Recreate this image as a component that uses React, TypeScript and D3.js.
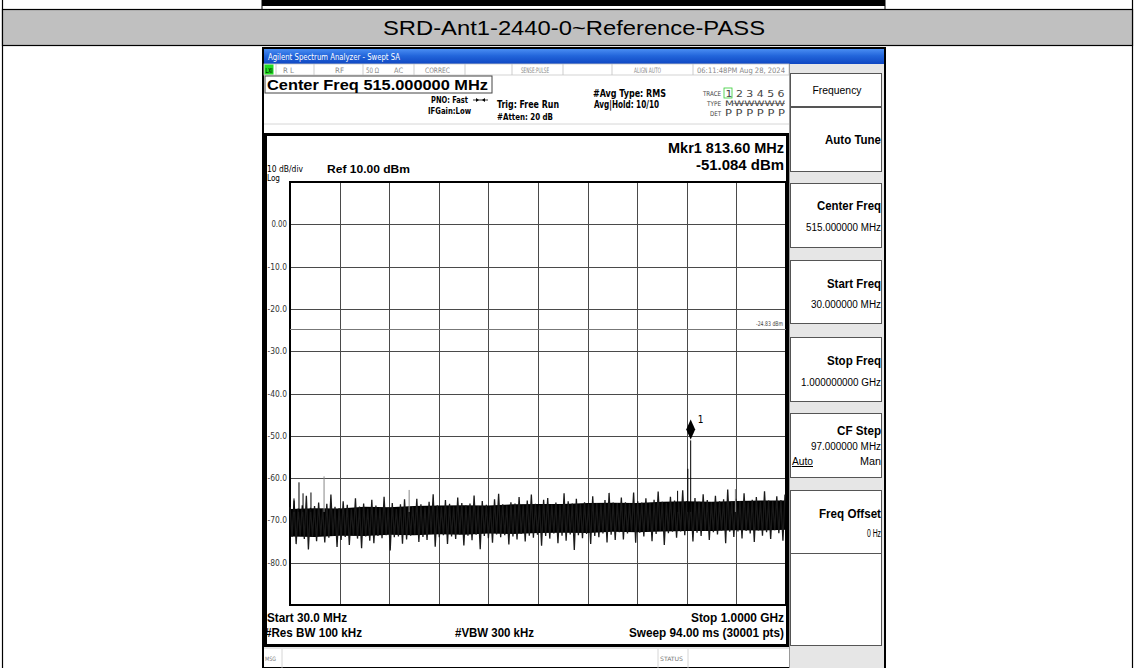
import React from 'react';
import * as d3 from 'd3';

// ---------- data ----------
const TITLE = 'SRD-Ant1-2440-0~Reference-PASS';
const START_MHZ = 30;
const STOP_MHZ = 1000;
const REF_DBM = 10;
const BOTTOM_DBM = -90;
const xDivs = [0, 1, 2, 3, 4, 5, 6, 7, 8, 9, 10];
const yTickValues = [0, -10, -20, -30, -40, -50, -60, -70, -80];
const yTickLabels = ['0.00', '-10.0', '-20.0', '-30.0', '-40.0', '-50.0', '-60.0', '-70.0', '-80.0'];
const yGridValues = [10, 0, -10, -20, -30, -40, -50, -60, -70, -80, -90];
const DISPLAY_LINE_DBM = -24.83;
const MARKER_FREQ = 813.6;
const MARKER_DBM = -51.084;
const SWEEP_STEP_MHZ = 8;

// noise trace extremes (one pair per 8 MHz column)
const noiseHi = [
  -66.9, -65.3, -67.2, -66.4, -64.2, -67.0, -66.6, -65.8, -67.3, -66.1,
  -63.9, -66.8, -67.1, -65.5, -66.3, -67.4, -64.8, -66.7, -66.0, -67.2,
  -65.1, -66.5, -67.0, -64.4, -66.9, -65.9, -67.3, -66.2, -65.0, -66.8,
  -66.6, -64.9, -66.2, -66.9, -65.6, -63.8, -66.4, -66.8, -65.2, -66.1,
  -66.7, -64.6, -65.9, -66.5, -66.0, -64.1, -66.6, -65.4, -66.3, -66.8,
  -65.0, -63.7, -66.2, -66.5, -65.7, -66.0, -64.5, -66.4, -65.3, -63.9,
  -66.1, -66.4, -65.1, -64.7, -66.2, -65.8, -66.3, -63.6, -65.5, -66.0,
  -64.9, -66.2, -65.7, -66.1, -64.3, -65.9, -66.0, -65.2, -63.5, -65.8,
  -65.9, -64.6, -65.7, -66.0, -63.4, -65.5, -65.8, -64.8, -65.9, -65.1,
  -63.2, -65.6, -65.9, -64.4, -65.3, -65.7, -62.9, -65.4, -65.8, -64.7,
  -65.6, -63.8, -65.2, -65.7, -64.2, -65.5, -65.0, -62.7, -65.6, -64.9,
  -65.4, -63.6, -65.7, -65.1, -64.5, -65.6, -63.1, -65.3, -65.5, -64.3,
  -65.2, -63.9,
];
const noiseLo = [
  -73.9, -75.6, -73.6, -74.4, -76.9, -73.8, -74.9, -73.5, -75.2, -74.1,
  -73.7, -76.3, -74.6, -73.9, -75.8, -73.6, -74.3, -76.6, -73.8, -74.8,
  -75.4, -73.7, -74.2, -73.5, -77.1, -74.0, -73.8, -75.5, -74.5, -73.6,
  -73.4, -75.1, -73.9, -74.6, -73.2, -76.2, -74.0, -73.5, -75.6, -73.8,
  -74.4, -73.3, -75.9, -73.6, -74.7, -73.4, -76.8, -73.7, -74.2, -75.3,
  -73.3, -74.0, -73.5, -75.7, -73.8, -74.5, -73.2, -75.0, -73.6, -74.1,
  -73.4, -76.0, -73.7, -74.3, -73.1, -75.4, -73.6, -74.8, -73.3, -77.0,
  -73.5, -74.2, -73.2, -75.6, -73.7, -74.0, -73.1, -75.2, -73.4, -74.6,
  -72.8, -74.5, -73.1, -72.6, -75.3, -72.9, -73.8, -72.7, -74.9, -73.2,
  -72.5, -75.8, -73.0, -72.7, -74.1, -72.6, -73.5, -72.4, -75.0, -72.9,
  -73.7, -72.5, -74.6, -72.8, -73.3, -72.4, -75.4, -72.7, -73.9, -72.6,
  -74.3, -72.5, -73.1, -75.1, -72.4, -73.6, -72.8, -74.4, -72.3, -73.0,
  -74.8, -72.6,
];
// dense core of the trace, one value per 48.5 MHz
const coreTop = [-67.3, -67.1, -67.2, -66.8, -66.9, -66.6, -66.5, -66.4, -66.5, -66.2, -66.1, -66.1, -65.9, -65.8, -65.9, -65.6, -65.5, -65.6, -65.4, -65.3, -65.3];
const coreBot = [-73.8, -73.9, -73.6, -73.7, -73.4, -73.5, -73.3, -73.4, -73.1, -73.2, -73.0, -72.9, -73.0, -72.7, -72.8, -72.6, -72.5, -72.5, -72.3, -72.4, -72.2];
const spurFreqs = [37.8, 47.6, 55.5, 71.0, 96.6, 263.0, 788.0, 808.0, 813.6, 901.0];
const spurLevels = [-64.8, -61.0, -63.6, -63.4, -59.6, -62.8, -63.0, -57.8, -51.084, -62.6];
const spurGray = [false, false, false, false, true, true, false, false, false, true];

const statusItems = ['R L', 'RF', '50 Ω', 'AC', 'CORREC', 'SENSE:PULSE', 'ALIGN AUTO', '06:11:48PM Aug 28, 2024'];
const softkeyTitles = ['Auto Tune', 'Center Freq', 'Start Freq', 'Stop Freq', 'CF Step', 'Freq Offset'];
const softkeyValues = ['', '515.000000 MHz', '30.000000 MHz', '1.000000000 GHz', '97.000000 MHz', '0 Hz'];

// ---------- layout ----------
const W = 1136;
const H = 668;
const PX0 = 290, PX1 = 786, PY0 = 182, PY1 = 605;
const FONT = "'Liberation Sans', Arial, Helvetica, sans-serif";
const NARROW = "'Liberation Sans Narrow', 'Arial Narrow', 'DejaVu Sans Condensed', 'Liberation Sans', Arial, sans-serif";

type TP = {
  x: number; y: number; s?: number; w?: number | string; a?: 'start' | 'middle' | 'end';
  fill?: string; len?: number; f?: string; children: React.ReactNode; deco?: string;
};
function T({ x, y, s = 10, w = 400, a = 'start', fill = '#000', len, f = FONT, children, deco }: TP) {
  return (
    <text x={x} y={y} fontSize={s} fontWeight={w} textAnchor={a} fill={fill} fontFamily={f}
      textLength={len} lengthAdjust={len ? 'spacingAndGlyphs' : undefined} textDecoration={deco}>
      {children}
    </text>
  );
}

export default function App() {
  const x = d3.scaleLinear().domain([START_MHZ, STOP_MHZ]).range([PX0, PX1]);
  const y = d3.scaleLinear().domain([REF_DBM, BOTTOM_DBM]).range([PY0, PY1]);
  const span = STOP_MHZ - START_MHZ;

  // zig-zag noise trace between column extremes
  const pts: [number, number][] = [];
  noiseHi.forEach((hi, i) => {
    const f = START_MHZ + i * SWEEP_STEP_MHZ;
    pts.push([x(f), y(hi)]);
    if (f + SWEEP_STEP_MHZ / 2 <= STOP_MHZ) pts.push([x(f + SWEEP_STEP_MHZ / 2), y(noiseLo[i])]);
  });
  const tracePath = d3.line()(pts) || '';
  const coreArea = d3.area<number>()
    .x((_, i) => x(START_MHZ + (i * span) / (coreTop.length - 1)))
    .y0((_, i) => y(coreBot[i]))
    .y1((d) => y(d))(coreTop) || '';

  const mx = x(MARKER_FREQ);
  const my = y(MARKER_DBM);

  const statusX = [283, 335, 366, 394, 425, 521, 634, 697];
  const statusSep = [276, 314, 363, 414, 465, 512, 563, 612, 693];

  const keyBoxes = [
    { y0: 107, y1: 171 }, { y0: 183, y1: 247 }, { y0: 260, y1: 323 },
    { y0: 337, y1: 401 }, { y0: 413, y1: 477 }, { y0: 490, y1: 553 },
  ];
  const keyTitleY = [144, 210, 288, 365, 435, 518];
  const keyValY = [0, 231, 308, 386, 450, 537];
  const keyTitleLen = [56, 64, 54, 54, 44, 62];
  const keyValLen = [0, 75, 70, 80, 70, 14];

  return (
    <svg width={W} height={H} viewBox={`0 0 ${W} ${H}`} style={{ position: 'absolute', left: 0, top: 0, background: '#fff' }}>
      <defs>
        <linearGradient id="tb" x1="0" y1="0" x2="0" y2="1">
          <stop offset="0" stopColor="#4a8df2" />
          <stop offset="0.45" stopColor="#2366db" />
          <stop offset="1" stopColor="#0f47c2" />
        </linearGradient>
      </defs>
      <rect x={0} y={0} width={W} height={H} fill="#fff" />

      {/* top remnant of previous row */}
      <rect x={262} y={0} width={623} height={6} fill="#000" />
      <line x1={262} y1={0} x2={262} y2={9} stroke="#000" />
      <line x1={885} y1={0} x2={885} y2={9} stroke="#000" />

      {/* outer table borders */}
      <line x1={2.5} y1={0} x2={2.5} y2={H} stroke="#000" strokeWidth={1.2} />
      <line x1={1132.5} y1={0} x2={1132.5} y2={H} stroke="#000" strokeWidth={1.2} />

      {/* header band */}
      <rect x={2.5} y={9.5} width={1130} height={36} fill="#c0c0c0" stroke="#000" strokeWidth={1.2} />
      <T x={574} y={35} s={21} a="middle" len={382}>{TITLE}</T>

      {/* screenshot */}
      <rect x={263} y={48} width={622} height={620} fill="#fff" stroke="#000" strokeWidth={2} />
      <rect x={264} y={49} width={620} height={15} fill="url(#tb)" />
      <T x={268} y={60} s={9} fill="#fff" len={132} f={NARROW}>Agilent Spectrum Analyzer - Swept SA</T>

      {/* status row */}
      <rect x={264} y={64} width={525} height={11} fill="#fff" stroke="#c8c8c8" strokeWidth={0.8} />
      <rect x={264.5} y={64.5} width={9} height={10} fill="#22dd22" />
      <T x={265.5} y={73} s={7.5} w={700} fill="#003300" len={7}>LXI</T>
      {statusSep.map((sx, i) => (
        <line key={i} x1={sx} y1={64} x2={sx} y2={75} stroke="#c0c0c0" strokeWidth={0.8} />
      ))}
      {statusItems.map((s, i) => (
        <T key={s} x={statusX[i]} y={72.5} s={7.5} fill="#888" f={NARROW}
          len={[11, 9, 13, 9, 25, 28, 27, 88][i]}>{s}</T>
      ))}

      {/* measurement header */}
      <rect x={265} y={76} width={227} height={17} fill="#fff" stroke="#444" strokeWidth={1} />
      <T x={267} y={89.5} s={14} w={700} len={221}>Center Freq 515.000000 MHz</T>
      <T x={431} y={103} s={8.5} w={700} len={37} f={NARROW}>PNO: Fast</T>
      <line x1={473} y1={100} x2={488} y2={100} stroke="#000" strokeWidth={0.8} />
      <path d="M476,98 L479,100 L476,102 Z M485,98 L482,100 L485,102 Z" fill="#000" />
      <T x={428} y={114} s={8.5} w={700} len={43} f={NARROW}>IFGain:Low</T>
      <T x={497} y={108} s={10} w={700} len={62} f={NARROW}>Trig: Free Run</T>
      <T x={497} y={120} s={9} w={700} len={56} f={NARROW}>#Atten: 20 dB</T>
      <T x={593} y={97} s={10} w={700} len={73} f={NARROW}>#Avg Type: RMS</T>
      <T x={594} y={108} s={10} w={700} len={65} f={NARROW}>Avg|Hold: 10/10</T>
      <T x={721} y={96} s={6.5} a="end" fill="#444" len={18} f={NARROW}>TRACE</T>
      <rect x={724} y={88} width={8} height={10} fill="none" stroke="#3c3" strokeWidth={0.8} />
      <T x={725.5} y={96.5} s={9} fill="#444" len={59} f={NARROW}>1 2 3 4 5 6</T>
      <T x={721} y={106} s={6.5} a="end" fill="#444" len={14} f={NARROW}>TYPE</T>
      <T x={725} y={106} s={7.5} fill="#444" len={60} f={NARROW}>MWWWWW</T>
      <line x1={733} y1={103.5} x2={785} y2={103.5} stroke="#444" strokeWidth={0.6} />
      <T x={721} y={116} s={6.5} a="end" fill="#444" len={11} f={NARROW}>DET</T>
      <T x={725} y={116} s={8} fill="#444" len={60} f={NARROW}>P P P P P P</T>
      <line x1={264} y1={124} x2={789} y2={124} stroke="#ccc" strokeWidth={0.8} />

      {/* display frame */}
      <rect x={265.5} y={134.5} width={522} height={511} fill="#fff" stroke="#000" strokeWidth={3} />
      <T x={784} y={153} s={15} w={700} a="end" len={116}>Mkr1 813.60 MHz</T>
      <T x={784} y={170} s={15} w={700} a="end" len={88}>-51.084 dBm</T>
      <T x={267} y={172} s={9} len={36} f={NARROW}>10 dB/div</T>
      <T x={267} y={181} s={9} len={13} f={NARROW}>Log</T>
      <T x={327} y={173} s={11} w={700} len={83}>Ref 10.00 dBm</T>

      {/* grid */}
      {xDivs.map((d) => {
        const gx = Math.round(x(START_MHZ + (d * span) / 10)) + 0.5;
        return <line key={'v' + d} x1={gx} y1={PY0} x2={gx} y2={PY1} stroke="#4a4a4a" strokeWidth={1} />;
      })}
      {yGridValues.map((v) => {
        const gy = Math.round(y(v)) + 0.5;
        return <line key={'h' + v} x1={PX0} y1={gy} x2={PX1} y2={gy} stroke="#4a4a4a" strokeWidth={1} />;
      })}
      <rect x={PX0} y={PY0} width={PX1 - PX0} height={PY1 - PY0} fill="none" stroke="#000" strokeWidth={2} />
      {yTickValues.map((v, i) => (
        <T key={'yl' + v} x={287} y={y(v) + 3} s={9} a="end" fill="#333" f={NARROW}
          len={yTickLabels[i].length * 3.9}>{yTickLabels[i]}</T>
      ))}

      {/* display line */}
      <line x1={PX0} y1={Math.round(y(DISPLAY_LINE_DBM)) + 0.5} x2={PX1} y2={Math.round(y(DISPLAY_LINE_DBM)) + 0.5} stroke="#777" strokeWidth={1} />
      <T x={783} y={y(DISPLAY_LINE_DBM) - 3} s={6.5} a="end" fill="#444" len={27} f={NARROW}>-24.83 dBm</T>

      {/* trace */}
      <path d={coreArea} fill="#000" />
      <path d={tracePath} fill="none" stroke="#1a1a1a" strokeWidth={1.3} />
      {spurFreqs.map((f, i) => (
        <line key={'sp' + i} x1={x(f)} y1={y(-68)} x2={x(f)} y2={y(spurLevels[i])}
          stroke={spurGray[i] ? '#888' : '#000'} strokeWidth={1} />
      ))}

      {/* marker */}
      <path d={`M${mx},${my - 21} L${mx + 4.5},${my - 11} L${mx},${my - 1} L${mx - 4.5},${my - 11} Z`} fill="#000" />
      <T x={mx + 7} y={my - 17} s={10} f={NARROW}>1</T>

      {/* bottom annotations */}
      <T x={267} y={622} s={12} w={700} len={80}>Start 30.0 MHz</T>
      <T x={784} y={622} s={12} w={700} a="end" len={93}>Stop 1.0000 GHz</T>
      <T x={265} y={637} s={12} w={700} len={97}>#Res BW 100 kHz</T>
      <T x={455} y={637} s={12} w={700} len={79}>#VBW 300 kHz</T>
      <T x={784} y={637} s={12} w={700} a="end" len={155}>Sweep  94.00 ms (30001 pts)</T>

      {/* message bar */}
      <line x1={264} y1={648} x2={789} y2={648} stroke="#bbb" strokeWidth={0.8} />
      <line x1={282} y1={649} x2={282} y2={668} stroke="#ccc" strokeWidth={0.8} />
      <line x1={658} y1={649} x2={658} y2={668} stroke="#ccc" strokeWidth={0.8} />
      <line x1={688} y1={649} x2={688} y2={668} stroke="#ccc" strokeWidth={0.8} />
      <T x={265} y={661} s={6} fill="#777" len={11} f={NARROW}>MSG</T>
      <T x={660} y={661} s={6} fill="#777" len={23} f={NARROW}>STATUS</T>

      {/* softkey panel */}
      <rect x={789} y={64} width={95} height={604} fill="#e6e6e6" />
      <line x1={789.5} y1={64} x2={789.5} y2={668} stroke="#999" strokeWidth={1} />
      <rect x={790.5} y={73.5} width={91} height={33} fill="#fff" stroke="#555" strokeWidth={1} />
      <T x={837} y={94} s={10} a="middle" len={49}>Frequency</T>
      {keyBoxes.map((b, i) => (
        <rect key={'kb' + i} x={790.5} y={b.y0 + 0.5} width={91} height={b.y1 - b.y0} fill="#fff" stroke="#555" strokeWidth={1} />
      ))}
      <rect x={790.5} y={553.5} width={91} height={92} fill="#fff" stroke="#555" strokeWidth={1} />
      {softkeyTitles.map((t, i) => (
        <T key={t} x={881} y={keyTitleY[i]} s={12} w={700} a="end" len={keyTitleLen[i]}>{t}</T>
      ))}
      {softkeyValues.map((v, i) => v ? (
        <T key={'kv' + i} x={881} y={keyValY[i]} s={10} a="end" len={keyValLen[i]}>{v}</T>
      ) : null)}
      <T x={792} y={465} s={10} len={21} deco="underline">Auto</T>
      <T x={881} y={465} s={10} a="end" len={21}>Man</T>
    </svg>
  );
}
